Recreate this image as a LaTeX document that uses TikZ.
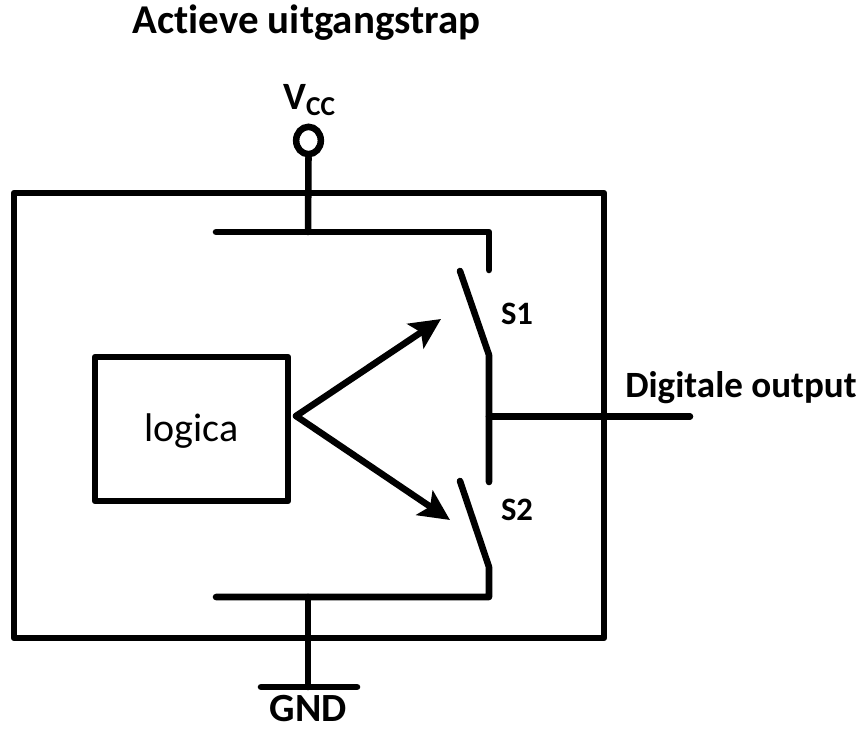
\documentclass[tikz,border=0pt]{standalone}
\usepackage{fontspec}
\setmainfont[Ligatures=CommonOff]{Carlito}
\usetikzlibrary{arrows.meta,shapes.geometric}
\tikzset{
  wire/.style={line width=4.9pt,line cap=round,line join=round,black},
  frame/.style={draw=black,line width=4.9pt,inner sep=0pt,line join=round},
  lbl/.style={inner sep=0pt},
  arrowwire/.style={wire,-{Stealth[length=23pt,width=22pt,inset=5pt]}}
}
\begin{document}
\begin{tikzpicture}[x=0.75pt,y=-0.75pt]
\useasboundingbox (0,0) rectangle (860,728);
% labels
\node[lbl,font=\bfseries\fontsize{30.7}{36}\selectfont,anchor=base] (title) at (306.5,33) {Actieve uitgangstrap};
\node[lbl,font=\bfseries\fontsize{29}{34}\selectfont,anchor=base west] (vcc) at (283,109) {V\raisebox{-4.5pt}{\fontsize{20.5}{24}\selectfont CC}};
\node[lbl,font=\bfseries\fontsize{30}{34}\selectfont,anchor=base] (gnd) at (308.5,721) {GND};
\node[lbl,font=\bfseries\fontsize{24.5}{28}\selectfont,anchor=base] (s1) at (517,324) {S1};
\node[lbl,font=\bfseries\fontsize{24.5}{28}\selectfont,anchor=base] (s2) at (517,520) {S2};
\node[lbl,font=\bfseries\fontsize{27.8}{32}\selectfont,anchor=base west] (out) at (625,397) {Digitale output};
% outer box and logic box
\draw[frame] (14,193) rectangle (604,638);
\node[frame,minimum width=144.75pt,minimum height=108pt,
      font=\fontsize{30}{36}\selectfont] (logica) at (191.5,429) {\raisebox{-9.5pt}[8pt][8pt]{logica}};
% named points
\coordinate (vbar) at (308,232);
\coordinate (bl) at (216,232);
\coordinate (tr) at (489,232);
\coordinate (tc) at (489,270);
\coordinate (b1a) at (460,271);
\coordinate (b1b) at (489,355);
\coordinate (mid) at (489,416.5);
\coordinate (b2c) at (489,482);
\coordinate (b2a) at (460,481);
\coordinate (b2b) at (489,567);
\coordinate (br) at (489,597);
\coordinate (bb) at (216,597);
\coordinate (gbar) at (308,597);
\coordinate (gb) at (308,687);
\coordinate (gl) at (261,687);
\coordinate (gr) at (357,687);
\coordinate (outend) at (690,416.5);
\coordinate (apex) at (296,416);
\coordinate (a1) at (441,319);
\coordinate (a2) at (450,520);
% vcc terminal
\node[draw=black,line width=4.9pt,ellipse,minimum width=18.5pt,minimum height=20.5pt,inner sep=0pt] (term) at (308.5,140.5) {};
\draw[wire] (term.south) -- (vbar);
\draw[wire] (bl) -- (tr) -- (tc);
\draw[wire] (b1a) -- (b1b) -- (b2c);
\draw[wire] (b2a) -- (b2b) -- (br) -- (bb);
\draw[wire] (mid) -- (outend);
\draw[wire] (gbar) -- (gb);
\draw[wire] (gl) -- (gr);
\draw[arrowwire] (apex) -- (a1);
\draw[arrowwire] (apex) -- (a2);
\end{tikzpicture}
\end{document}
